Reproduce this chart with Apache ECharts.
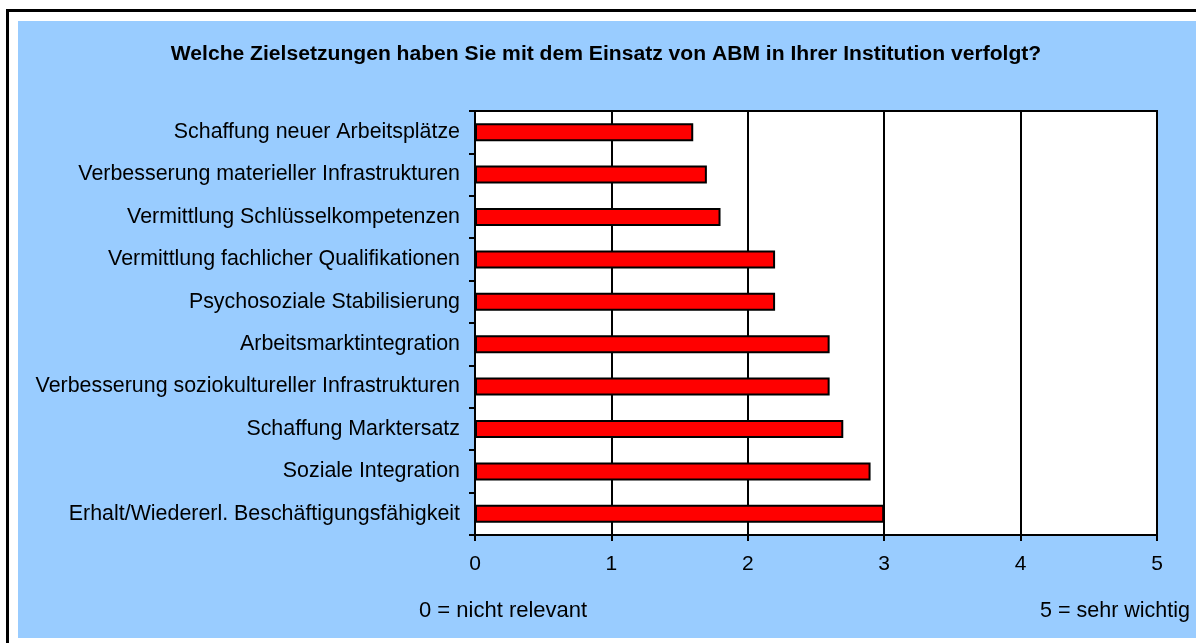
<!DOCTYPE html>
<html>
<head>
<meta charset="utf-8">
<script src="https://cdn.jsdelivr.net/npm/echarts@6/dist/echarts.min.js"></script>
<style>
  html, body { margin: 0; padding: 0; background: #fff; }
  #chart { width: 1196px; height: 643px; }
</style>
</head>
<body>
<div id="chart"></div>
<script>
// Kategorien (von oben nach unten)
const categories = [
  "Schaffung neuer Arbeitsplätze",
  "Verbesserung materieller Infrastrukturen",
  "Vermittlung Schlüsselkompetenzen",
  "Vermittlung fachlicher Qualifikationen",
  "Psychosoziale Stabilisierung",
  "Arbeitsmarktintegration",
  "Verbesserung soziokultureller Infrastrukturen",
  "Schaffung Marktersatz",
  "Soziale Integration",
  "Erhalt/Wiedererl. Beschäftigungsfähigkeit"
];
// Mittelwerte (0 = nicht relevant, 5 = sehr wichtig)
const values = [1.6, 1.7, 1.8, 2.2, 2.2, 2.6, 2.6, 2.7, 2.9, 3.0];

const font = "Liberation Sans";

let chart = echarts.init(document.getElementById("chart"));
let option = {
  backgroundColor: "#fff",
  animation: false,
  graphic: [
    {
      type: "rect",
      z: -10,
      shape: { x: 7.5, y: 10.5, width: 1250, height: 700 },
      style: { fill: "#fff", stroke: "#000", lineWidth: 3 }
    },
    {
      type: "rect",
      z: -9,
      shape: { x: 18, y: 21, width: 1200, height: 617 },
      style: { fill: "#99ccff" }
    },
    {
      type: "text",
      left: 419,
      top: 600,
      style: { text: "0 = nicht relevant", fontFamily: font, fontSize: 22, fill: "#000" }
    },
    {
      type: "text",
      right: 6,
      top: 600,
      style: { text: "5 = sehr wichtig", fontFamily: font, fontSize: 21.5, fill: "#000" }
    }
  ],
  title: {
    text: "Welche Zielsetzungen haben Sie mit dem Einsatz von ABM in Ihrer Institution verfolgt?",
    left: 601,
    textAlign: "center",
    top: 39,
    textStyle: { fontFamily: font, fontSize: 21.1, fontWeight: "bold", color: "#000" }
  },
  grid: {
    left: 475,
    top: 111,
    right: 39,
    bottom: 108,
    show: true,
    backgroundColor: "#fff",
    borderColor: "#000",
    borderWidth: 2
  },
  xAxis: {
    type: "value",
    min: 0,
    max: 5,
    interval: 1,
    axisLine: { show: true, lineStyle: { color: "#000", width: 2 } },
    axisTick: { show: true, length: 6, lineStyle: { color: "#000", width: 2 } },
    splitLine: { show: true, lineStyle: { color: "#000", width: 2 } },
    axisLabel: { margin: 19, fontFamily: font, fontSize: 21, color: "#000" }
  },
  yAxis: {
    type: "category",
    inverse: true,
    data: categories,
    axisLine: { show: true, lineStyle: { color: "#000", width: 2 } },
    axisTick: { show: true, length: 6, lineStyle: { color: "#000", width: 2 } },
    axisLabel: { margin: 15, fontFamily: font, fontSize: 21.4, color: "#000" }
  },
  series: [
    {
      type: "bar",
      data: values,
      barWidth: 18,
      itemStyle: { color: "#ff0000", borderColor: "#000", borderWidth: 2 }
    }
  ]
};
chart.setOption(option);
</script>
</body>
</html>
